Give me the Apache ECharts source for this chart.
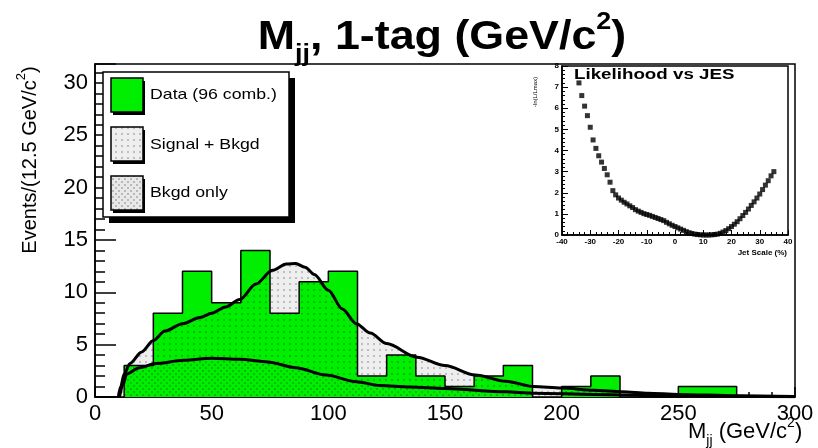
<!DOCTYPE html>
<html>
<head>
<meta charset="utf-8">
<script src="https://cdn.jsdelivr.net/npm/echarts@6/dist/echarts.min.js"></script>
<style>
  html, body { margin: 0; padding: 0; background: #fff; }
  #chart { width: 818px; height: 448px; }
</style>
</head>
<body>
<div id="chart"></div>
<script>
// Dijet mass, 1-tag sample: event counts per 12.5 GeV/c^2 bin, first bin starts at 0
const BIN_WIDTH = 12.5;
const dataCounts = [0, 3, 8, 12, 9, 14, 8, 11, 12, 2, 4, 2, 1, 2, 3, 0, 1, 2, 0, 0, 1, 1, 0, 0];

// Signal + background template (mass in GeV/c^2, events per bin)
const sbMass  = [10, 11, 12.5, 15, 20, 25, 30, 37.5, 45, 50, 56, 62, 69, 76, 82, 86, 90, 94, 100, 106, 112, 118, 125, 138, 150, 163, 176, 188, 200, 214, 226, 237, 250, 275, 300];
const sbValue = [0, 1.0, 2.2, 3.2, 4.3, 5.4, 6.3, 7.0, 7.6, 8.0, 8.6, 9.3, 10.8, 12.1, 12.7, 12.75, 12.4, 11.7, 10.2, 8.4, 7.0, 6.1, 5.1, 3.8, 3.0, 2.1, 1.5, 1.0, 0.85, 0.65, 0.5, 0.35, 0.25, 0.12, 0.05];

// Background-only template
const bkMass  = [10.5, 12, 13.6, 19, 26, 38, 50, 62, 74, 86, 99, 112, 122, 135, 150, 176, 188, 214, 250, 300];
const bkValue = [0, 1.2, 2.2, 2.8, 3.2, 3.5, 3.7, 3.6, 3.35, 2.8, 2.1, 1.45, 1.1, 0.95, 0.8, 0.5, 0.35, 0.25, 0.1, 0.03];

// Inset: -ln(L/Lmax) versus jet energy scale shift (%)
const jesShift = [-34, -33, -32, -31, -30, -29, -28, -27, -26, -25, -24, -23, -22, -21, -20, -19, -18, -17, -16, -15,
                  -14, -13, -12, -11, -10, -9, -8, -7, -6, -5, -4, -3, -2, -1, 0, 1, 2, 3, 4, 5,
                  6, 7, 8, 9, 10, 11, 12, 13, 14, 15, 16, 17, 18, 19, 20, 21, 22, 23, 24, 25,
                  26, 27, 28, 29, 30, 31, 32, 33, 34, 35];
const jesNll   = [7.2, 6.6, 6.1, 5.65, 5.1, 4.5, 4.1, 3.75, 3.45, 3.15, 2.85, 2.5, 2.1, 1.9, 1.75, 1.65, 1.55, 1.47, 1.38, 1.3,
                  1.2, 1.13, 1.07, 1.01, 0.97, 0.93, 0.88, 0.83, 0.78, 0.73, 0.68, 0.6, 0.53, 0.46, 0.4, 0.34, 0.28, 0.22, 0.16, 0.11,
                  0.07, 0.04, 0.02, 0.01, 0, 0, 0, 0.01, 0.02, 0.04, 0.08, 0.14, 0.21, 0.3, 0.4, 0.51, 0.63, 0.77, 0.92, 1.07,
                  1.23, 1.4, 1.57, 1.75, 1.94, 2.15, 2.36, 2.57, 2.8, 3.0];

const legendLabels = ['Data (96 comb.)', 'Signal + Bkgd', 'Bkgd only'];

const FONT = '"Liberation Sans", Arial, Helvetica, sans-serif';
const GREEN = '#00ee00';

// Small repeating dot textures used for the template fills
function dotPattern(size, dots, color, bg) {
  const c = document.createElement('canvas');
  c.width = size; c.height = size;
  const g = c.getContext('2d');
  if (bg) { g.fillStyle = bg; g.fillRect(0, 0, size, size); }
  g.fillStyle = color;
  dots.forEach(d => g.fillRect(d[0], d[1], 2, 2));
  return { image: c, repeat: 'repeat' };
}
const sbDots = dotPattern(6, [[1, 1]], 'rgba(0,0,0,0.2)');
const bkDots = dotPattern(6, [[4, 4]], 'rgba(0,0,0,0.2)');
const sbSwatch = dotPattern(6, [[1, 1]], 'rgba(0,0,0,0.2)', '#eeeeee');
const bkSwatch = dotPattern(6, [[1, 1], [4, 4]], 'rgba(0,0,0,0.2)', '#e8e8e8');

const zip = (xs, ys) => xs.map((x, i) => [x, ys[i]]);
const histPoints = dataCounts.map((v, i) => [i * BIN_WIDTH, v])
  .concat([[dataCounts.length * BIN_WIDTH, 0]]);

const chart = echarts.init(document.getElementById('chart'), null, { renderer: 'canvas' });

const mainLabel = { color: '#000', fontFamily: FONT, fontSize: 22 };
const insetLabel = { color: '#000', fontFamily: FONT, fontSize: 8, fontWeight: 'bold' };

chart.setOption({
  animation: false,
  backgroundColor: '#fff',
  grid: [
    { left: 95, top: 64, width: 700, height: 333, show: true, borderColor: '#000', borderWidth: 1.5, backgroundColor: 'transparent' },
    { left: 562, top: 66, width: 226, height: 169, show: true, borderColor: '#000', borderWidth: 1.5, backgroundColor: '#fff' }
  ],
  xAxis: [
    {
      gridIndex: 0, type: 'value', min: 0, max: 300, interval: 50,
      axisLine: { lineStyle: { color: '#000', width: 1.5 } },
      axisTick: { inside: true, length: 10, lineStyle: { color: '#000', width: 1.5 } },
      minorTick: { show: true, splitNumber: 5, length: 5, lineStyle: { color: '#000', width: 1.5 } },
      splitLine: { show: false },
      axisLabel: Object.assign({ margin: 6 }, mainLabel)
    },
    {
      gridIndex: 1, type: 'value', min: -40, max: 40, interval: 10,
      axisLine: { onZero: false, lineStyle: { color: '#000', width: 1.5 } },
      axisTick: { inside: true, length: 5, lineStyle: { color: '#000' } },
      minorTick: { show: true, splitNumber: 5, length: 3, lineStyle: { color: '#000' } },
      splitLine: { show: false },
      axisLabel: Object.assign({ margin: 3 }, insetLabel)
    }
  ],
  yAxis: [
    {
      gridIndex: 0, type: 'value', min: 0, max: 31.8, interval: 5,
      axisLine: { onZero: false, lineStyle: { color: '#000', width: 1.5 } },
      axisTick: { inside: true, length: 21, lineStyle: { color: '#000', width: 1.5 } },
      minorTick: { show: true, splitNumber: 5, length: 10, lineStyle: { color: '#000', width: 1.5 } },
      splitLine: { show: false },
      axisLabel: Object.assign({ margin: 7, showMaxLabel: false }, mainLabel)
    },
    {
      gridIndex: 1, type: 'value', min: 0, max: 8, interval: 1,
      axisLine: { onZero: false, lineStyle: { color: '#000', width: 1.5 } },
      axisTick: { inside: true, length: 6, lineStyle: { color: '#000' } },
      minorTick: { show: true, splitNumber: 5, length: 3, lineStyle: { color: '#000' } },
      splitLine: { show: false },
      axisLabel: Object.assign({ margin: 3 }, insetLabel)
    }
  ],
  series: [
    {
      // light grey body of the signal + background template
      type: 'line', xAxisIndex: 0, yAxisIndex: 0, z: 1, silent: true,
      data: zip(sbMass, sbValue), smooth: 0.3, smoothMonotone: 'x', symbol: 'none',
      lineStyle: { width: 0 },
      areaStyle: { color: '#eeeeee', opacity: 1 }
    },
    {
      // data histogram
      type: 'line', xAxisIndex: 0, yAxisIndex: 0, z: 2, silent: true,
      data: histPoints, step: 'end', symbol: 'none',
      lineStyle: { color: '#000', width: 1.5 },
      areaStyle: { color: GREEN, opacity: 1 }
    },
    {
      // signal + background template outline and texture
      type: 'line', xAxisIndex: 0, yAxisIndex: 0, z: 3, silent: true,
      data: zip(sbMass, sbValue), smooth: 0.3, smoothMonotone: 'x', symbol: 'none',
      lineStyle: { color: '#000', width: 3 },
      areaStyle: { color: sbDots, opacity: 1 }
    },
    {
      // background-only template
      type: 'line', xAxisIndex: 0, yAxisIndex: 0, z: 3, silent: true,
      data: zip(bkMass, bkValue), smooth: 0.3, smoothMonotone: 'x', symbol: 'none',
      lineStyle: { color: '#000', width: 3 },
      areaStyle: { color: bkDots, opacity: 1 }
    },
    {
      // likelihood scan
      type: 'scatter', xAxisIndex: 1, yAxisIndex: 1, z: 5, silent: true,
      data: zip(jesShift, jesNll), symbol: 'rect', symbolSize: 5,
      itemStyle: { color: '#000' }
    }
  ],
  graphic: [
    // title
    {
      type: 'text', x: 442, y: 38, scaleX: 1.12, z: 10,
      style: {
        text: '{m|M}{s|jj}{m|, 1-tag (GeV/c}{p|2}{m|)}',
        align: 'center', verticalAlign: 'middle', fill: '#000',
        rich: {
          m: { fontFamily: FONT, fontWeight: 'bold', fontSize: 40, lineHeight: 56, verticalAlign: 'middle' },
          s: { fontFamily: FONT, fontWeight: 'bold', fontSize: 24, lineHeight: 22, verticalAlign: 'bottom' },
          p: { fontFamily: FONT, fontWeight: 'bold', fontSize: 24, lineHeight: 22, verticalAlign: 'top' }
        }
      }
    },
    // y-axis title
    {
      type: 'text', x: 30, y: 160, rotation: Math.PI / 2, z: 10,
      style: {
        text: '{a|Events/(12.5 GeV/c}{p|2}{a|)}',
        align: 'center', verticalAlign: 'middle', fill: '#000',
        rich: {
          a: { fontFamily: FONT, fontSize: 20, lineHeight: 30, verticalAlign: 'middle' },
          p: { fontFamily: FONT, fontSize: 13, lineHeight: 14, verticalAlign: 'top' }
        }
      }
    },
    // x-axis title
    {
      type: 'text', x: 688, y: 432, z: 10,
      style: {
        text: '{a|M}{s|jj}{a| (GeV/c}{p|2}{a|)}',
        align: 'left', verticalAlign: 'middle', fill: '#000',
        rich: {
          a: { fontFamily: FONT, fontSize: 22, lineHeight: 32, verticalAlign: 'middle' },
          s: { fontFamily: FONT, fontSize: 14, lineHeight: 14, verticalAlign: 'bottom' },
          p: { fontFamily: FONT, fontSize: 14, lineHeight: 14, verticalAlign: 'top' }
        }
      }
    },
    // legend box with drop shadow
    { type: 'rect', z: 10, shape: { x: 109, y: 78, width: 186, height: 145 }, style: { fill: '#000' } },
    { type: 'rect', z: 11, shape: { x: 103, y: 72, width: 186, height: 145 }, style: { fill: '#fff', stroke: '#000', lineWidth: 1.5 } },
    { type: 'rect', z: 12, shape: { x: 113, y: 81, width: 32, height: 34 }, style: { fill: '#000' } },
    { type: 'rect', z: 13, shape: { x: 111, y: 78, width: 32, height: 34 }, style: { fill: GREEN, stroke: '#000', lineWidth: 1.5 } },
    { type: 'rect', z: 12, shape: { x: 113, y: 130, width: 32, height: 34 }, style: { fill: '#000' } },
    { type: 'rect', z: 13, shape: { x: 111, y: 127, width: 32, height: 34 }, style: { fill: sbSwatch, stroke: '#000', lineWidth: 1.5 } },
    { type: 'rect', z: 12, shape: { x: 113, y: 179, width: 32, height: 34 }, style: { fill: '#000' } },
    { type: 'rect', z: 13, shape: { x: 111, y: 176, width: 32, height: 34 }, style: { fill: bkSwatch, stroke: '#000', lineWidth: 1.5 } },
    { type: 'text', z: 13, x: 150, y: 95, scaleX: 1.18, style: { text: legendLabels[0], font: '15px ' + FONT, fill: '#000', verticalAlign: 'middle' } },
    { type: 'text', z: 13, x: 150, y: 145, scaleX: 1.18, style: { text: legendLabels[1], font: '15px ' + FONT, fill: '#000', verticalAlign: 'middle' } },
    { type: 'text', z: 13, x: 150, y: 193, scaleX: 1.18, style: { text: legendLabels[2], font: '15px ' + FONT, fill: '#000', verticalAlign: 'middle' } },
    // inset annotations
    { type: 'text', z: 14, x: 574, y: 75, scaleX: 1.25, style: { text: 'Likelihood vs JES', font: 'bold 15px ' + FONT, fill: '#000', verticalAlign: 'middle' } },
    { type: 'text', z: 14, x: 535, y: 92, rotation: Math.PI / 2, style: { text: '-ln(L/Lmax)', font: '6px ' + FONT, fill: '#000', align: 'center', verticalAlign: 'middle' } },
    { type: 'text', z: 14, x: 787, y: 253, style: { text: 'Jet Scale (%)', font: 'bold 8px ' + FONT, fill: '#000', align: 'right', verticalAlign: 'middle' } }
  ]
});
</script>
</body>
</html>
